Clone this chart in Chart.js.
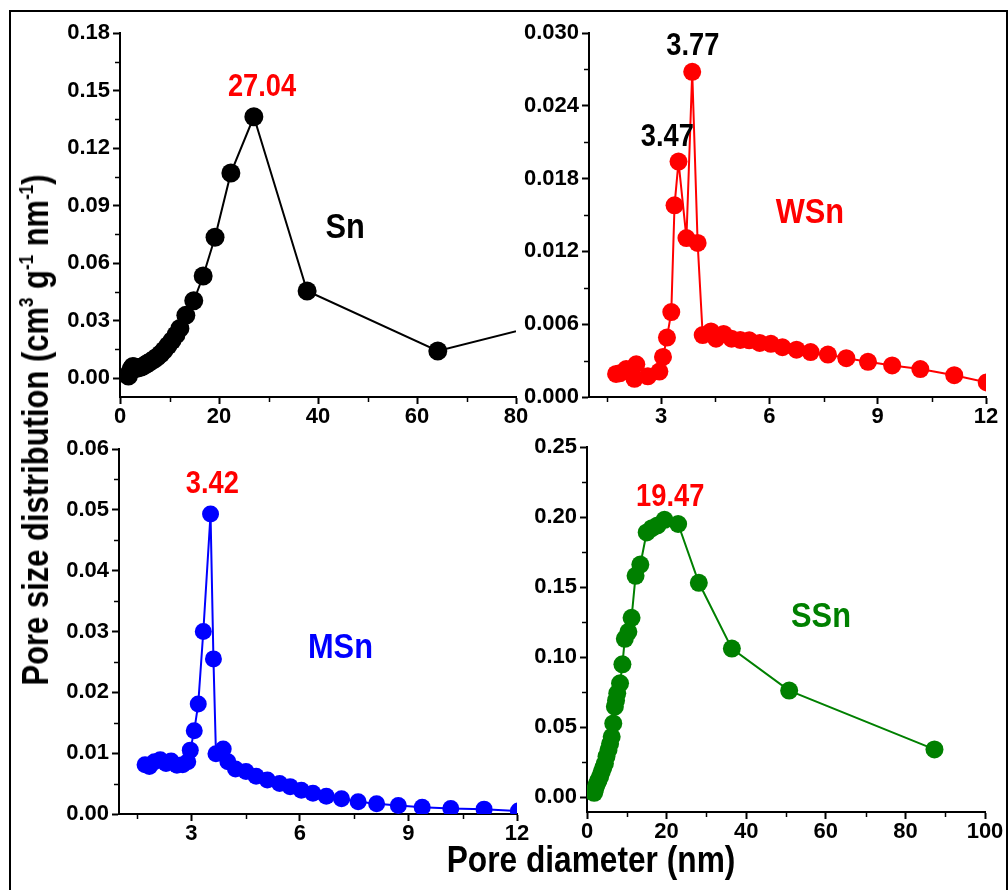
<!DOCTYPE html>
<html>
<head>
<meta charset="utf-8">
<script src="https://cdn.jsdelivr.net/npm/chart.js@4/dist/chart.umd.min.js"></script>
<style>
  html, body { margin:0; padding:0; background:#fff; }
  #wrap { position:relative; width:1008px; height:890px; overflow:hidden; background:#fff; }
  canvas { position:absolute; }
  .frame { position:absolute; left:9px; top:10px; width:995px; height:900px; border:2px solid #000; border-bottom:none; }
  .ttl { position:absolute; font-family:"Liberation Sans", Arial, sans-serif; font-weight:bold; font-size:36px; line-height:36px; white-space:nowrap; color:#000; }
  .ttl sup { font-size:0.55em; position:relative; top:-0.75em; vertical-align:baseline; line-height:0; }
</style>
</head>
<body>
<div id="wrap">
  <div class="frame"></div>
  <canvas id="c1"></canvas>
  <canvas id="c2"></canvas>
  <canvas id="c3"></canvas>
  <canvas id="c4"></canvas>
  <div class="ttl" id="ytitle" style="left:36px; top:430px; transform:translate(-50%,-50%) rotate(-90deg) scaleX(0.86);">Pore size distribution (cm<sup>3</sup> g<sup>-1</sup> nm<sup>-1</sup>)</div>
  <div class="ttl" id="xtitle" style="left:591px; top:842px; transform:translateX(-50%) scaleX(0.88);">Pore diameter (nm)</div>
</div>
<script>
// ---------- data ----------
const snX  = [1.7, 2.0, 2.3, 2.6, 2.9, 3.2, 3.5, 3.9, 4.3, 4.7, 5.2, 5.7, 6.3, 6.9, 7.5, 8.2, 8.9, 9.7, 10.5, 11.3, 12.1, 13.3, 14.9, 16.8, 19.2, 22.4, 27.04, 37.8, 64.2, 110];
const snY  = [0.0010, 0.0030, 0.0048, 0.0060, 0.0058, 0.0050, 0.0052, 0.0055, 0.0058, 0.0062, 0.0070, 0.0078, 0.0088, 0.0098, 0.0110, 0.0125, 0.0145, 0.0170, 0.0195, 0.0225, 0.0259, 0.0327, 0.0403, 0.0532, 0.0734, 0.1070, 0.1363, 0.0454, 0.0141, 0.0440];

const wsnX = [1.75, 1.85, 2.03, 2.26, 2.31, 2.63, 2.95, 3.05, 3.16, 3.28, 3.37, 3.48, 3.70, 3.86, 4.01, 4.15, 4.38, 4.52, 4.73, 4.95, 5.19, 5.44, 5.73, 6.04, 6.36, 6.75, 7.14, 7.62, 8.13, 8.73, 9.40, 10.18, 11.12, 12.02];
const wsnY = [0.0019, 0.00195, 0.0023, 0.0015, 0.0027, 0.0017, 0.0021, 0.0033, 0.0049, 0.0070, 0.0158, 0.0194, 0.0131, 0.0268, 0.0127, 0.0051, 0.0054, 0.0048, 0.0052, 0.0048, 0.0047, 0.00467, 0.00446, 0.00438, 0.0041, 0.0039, 0.0037, 0.0035, 0.0032, 0.0029, 0.0026, 0.0023, 0.0018, 0.0012];

const msnX = [1.72, 1.84, 1.98, 2.14, 2.30, 2.44, 2.60, 2.76, 2.90, 2.97, 3.08, 3.19, 3.33, 3.53, 3.61, 3.68, 3.88, 4.01, 4.22, 4.51, 4.79, 5.10, 5.44, 5.73, 6.04, 6.36, 6.73, 7.15, 7.61, 8.12, 8.72, 9.38, 10.17, 11.09, 12.04];
const msnY = [0.0081, 0.0078, 0.0086, 0.0089, 0.0083, 0.0087, 0.0080, 0.0081, 0.0086, 0.0105, 0.0137, 0.0181, 0.0300, 0.0493, 0.0255, 0.0099, 0.0107, 0.0086, 0.0074, 0.0070, 0.0062, 0.0056, 0.0050, 0.0045, 0.0039, 0.0034, 0.0029, 0.0025, 0.0020, 0.0017, 0.0014, 0.0011, 0.0009, 0.0008, 0.0005];

const ssnX = [1.8, 2.0, 2.3, 2.6, 2.9, 3.3, 3.7, 4.1, 4.5, 4.9, 5.4, 5.8, 6.2, 6.6, 7.0, 7.3, 7.6, 8.3, 8.9, 9.5, 10.4, 11.2, 12.2, 13.4, 15.0, 16.3, 17.7, 19.47, 22.9, 28.1, 36.4, 50.8, 87.3];
const ssnY = [0.003, 0.005, 0.008, 0.010, 0.012, 0.0145, 0.018, 0.021, 0.024, 0.029, 0.0336, 0.038, 0.043, 0.0526, 0.0645, 0.069, 0.0741, 0.0812, 0.0948, 0.113, 0.118, 0.128, 0.158, 0.166, 0.189, 0.192, 0.194, 0.198, 0.195, 0.153, 0.106, 0.076, 0.034];

// tick labels
const snXTicks  = [0, 20, 40, 60, 80];
const snYTicks  = [0.00, 0.03, 0.06, 0.09, 0.12, 0.15, 0.18];
const wsnXTicks = [3, 6, 9, 12];
const wsnYTicks = [0.000, 0.006, 0.012, 0.018, 0.024, 0.030];
const msnXTicks = [3, 6, 9, 12];
const msnYTicks = [0.00, 0.01, 0.02, 0.03, 0.04, 0.05, 0.06];
const ssnXTicks = [0, 20, 40, 60, 80, 100];
const ssnYTicks = [0.00, 0.05, 0.10, 0.15, 0.20, 0.25];

// minor ticks
const snXMinor  = [10, 30, 50, 70];
const snYMinor  = [0.015, 0.045, 0.075, 0.105, 0.135, 0.165];
const wsnXMinor = [1.5, 4.5, 7.5, 10.5];
const wsnYMinor = [0.003, 0.009, 0.015, 0.021, 0.027];
const msnXMinor = [1.5, 4.5, 7.5, 10.5];
const msnYMinor = [0.005, 0.015, 0.025, 0.035, 0.045, 0.055];
const ssnXMinor = [10, 30, 50, 70, 90];
const ssnYMinor = [0.025, 0.075, 0.125, 0.175, 0.225];

// ---------- plugins ----------
const FONT = '"Liberation Sans", Arial, sans-serif';
const annotPlugin = {
  id: 'annot',
  afterDatasetsDraw(chart, args, opts) {
    const ctx = chart.ctx, xs = chart.scales.x, ys = chart.scales.y;
    (opts.items || []).forEach(it => {
      const px = xs.getPixelForValue(it.x), py = ys.getPixelForValue(it.y);
      ctx.save();
      ctx.font = 'bold ' + it.size + 'px ' + FONT;
      ctx.fillStyle = it.color;
      ctx.textAlign = 'center';
      ctx.textBaseline = 'middle';
      ctx.translate(px, py);
      ctx.scale(0.88, 1);
      ctx.fillText(it.text, 0, 0);
      ctx.restore();
    });
  }
};
const minorPlugin = {
  id: 'minor',
  afterDraw(chart, args, opts) {
    const ctx = chart.ctx, xs = chart.scales.x, ys = chart.scales.y, a = chart.chartArea;
    ctx.save();
    ctx.strokeStyle = '#000';
    ctx.lineWidth = 1.5;
    (opts.x || []).forEach(v => {
      const p = Math.round(xs.getPixelForValue(v)) + 0.5;
      ctx.beginPath(); ctx.moveTo(p, a.bottom); ctx.lineTo(p, a.bottom + 5); ctx.stroke();
    });
    (opts.y || []).forEach(v => {
      const p = Math.round(ys.getPixelForValue(v)) + 0.5;
      ctx.beginPath(); ctx.moveTo(a.left, p); ctx.lineTo(a.left - 5, p); ctx.stroke();
    });
    ctx.restore();
  }
};

const YW = 70, PT = 20, PR = 22, XH = 40;

function makeChart(id, box, xs, ys, color, radius, xr, yr, xt, yt, xm, ym, dec, labels) {
  const cv = document.getElementById(id);
  const w = YW + (box.R - box.L) + PR;
  const h = PT + (box.B - box.T) + XH;
  cv.width = w; cv.height = h;
  cv.style.left = (box.L - YW) + 'px';
  cv.style.top = (box.T - PT) + 'px';
  cv.style.width = w + 'px'; cv.style.height = h + 'px';
  const pts = xs.map((x, i) => ({ x: x, y: ys[i] }));
  const tickFont = { family: FONT, size: 22, weight: 'bold' };
  const common = {
    type: 'linear',
    border: { display: true, color: '#000', width: 2 },
    grid: { display: true, drawOnChartArea: false, drawTicks: true, tickLength: 7, tickWidth: 2, tickColor: '#000' },
  };
  return new Chart(cv, {
    type: 'scatter',
    data: { datasets: [{
      data: pts, showLine: true, borderColor: color, backgroundColor: color,
      borderWidth: 2, pointRadius: radius, pointHoverRadius: radius,
      pointBackgroundColor: color, pointBorderColor: color, pointBorderWidth: 0,
      clip: { left: 0, right: 0, top: 30, bottom: 0 }
    }] },
    options: {
      responsive: false, animation: false, devicePixelRatio: 1,
      layout: { padding: { left: 0, top: PT, right: PR, bottom: 0 } },
      plugins: {
        legend: { display: false }, tooltip: { enabled: false },
        annot: { items: labels },
        minor: { x: xm, y: ym }
      },
      scales: {
        x: Object.assign({}, common, {
          min: xr[0], max: xr[1],
          afterBuildTicks: s => { s.ticks = xt.map(v => ({ value: v })); },
          afterFit: s => { s.height = XH; },
          ticks: { color: '#000', font: tickFont, padding: 0, maxRotation: 0, autoSkip: false,
                   callback: v => String(v) }
        }),
        y: Object.assign({}, common, {
          min: yr[0], max: yr[1],
          afterBuildTicks: s => { s.ticks = yt.map(v => ({ value: v })); },
          afterFit: s => { s.width = YW; },
          ticks: { color: '#000', font: tickFont, padding: 3, autoSkip: false,
                   callback: v => Number(v).toFixed(dec) }
        })
      }
    },
    plugins: [annotPlugin, minorPlugin]
  });
}

makeChart('c1', { L: 120, R: 516, T: 33, B: 397 }, snX, snY, '#000000', 9.5,
  [0, 80], [-0.0099, 0.18], snXTicks, snYTicks, snXMinor, snYMinor, 2,
  [ { text: '27.04', x: 28.7, y: 0.1516, color: '#ff0000', size: 31 },
    { text: 'Sn', x: 45.5, y: 0.0783, color: '#000000', size: 35 } ]);

makeChart('c2', { L: 589, R: 986, T: 33, B: 397 }, wsnX, wsnY, '#ff0000', 9,
  [1, 12], [0, 0.030], wsnXTicks, wsnYTicks, wsnXMinor, wsnYMinor, 3,
  [ { text: '3.77', x: 3.876, y: 0.02887, color: '#000000', size: 31 },
    { text: '3.47', x: 3.17, y: 0.0214, color: '#000000', size: 31 },
    { text: 'WSn', x: 7.12, y: 0.01516, color: '#ff0000', size: 35 } ]);

makeChart('c3', { L: 119, R: 517, T: 449, B: 814 }, msnX, msnY, '#0000ff', 8.5,
  [1, 12], [0, 0.06], msnXTicks, msnYTicks, msnXMinor, msnYMinor, 2,
  [ { text: '3.42', x: 3.58, y: 0.0542, color: '#ff0000', size: 31 },
    { text: 'MSn', x: 7.12, y: 0.0272, color: '#0000ff', size: 35 } ]);

makeChart('c4', { L: 587, R: 985, T: 447, B: 812 }, ssnX, ssnY, '#008000', 9,
  [0, 100], [-0.0107, 0.25], ssnXTicks, ssnYTicks, ssnXMinor, ssnYMinor, 2,
  [ { text: '19.47', x: 20.9, y: 0.2141, color: '#ff0000', size: 31 },
    { text: 'SSn', x: 58.8, y: 0.1284, color: '#008000', size: 35 } ]);
</script>
</body>
</html>
